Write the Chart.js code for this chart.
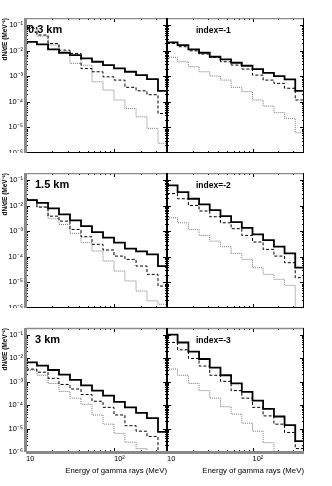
<!DOCTYPE html>
<html>
<head>
<meta charset="utf-8">
<script src="https://cdn.jsdelivr.net/npm/chart.js@4/dist/chart.umd.min.js"></script>
<style>
  html, body { margin: 0; padding: 0; background: #fff; }
  body { width: 332px; height: 486px; position: relative; overflow: hidden; }
  canvas { position: absolute; }
</style>
</head>
<body>
<canvas id="p0"></canvas>
<canvas id="p1"></canvas>
<canvas id="p2"></canvas>
<canvas id="p3"></canvas>
<canvas id="p4"></canvas>
<canvas id="p5"></canvas>
<script>
// bin edges of the histograms (MeV)
const binEdges = [10, 13.3, 17.8, 23.7, 31.6, 42.2, 56.2, 75, 100, 133, 178, 237, 316, 422];
const yDecades = [1e-6, 1e-5, 1e-4, 1e-3, 1e-2, 1e-1];
const xLabelTicks = [10, 100];

// 0.3 km
const solid03 = [0.0223, 0.0176, 0.0112, 0.0083, 0.0067, 0.0050, 0.0037, 0.00274, 0.00203, 0.00150, 0.00111, 0.00078, 0.00027];
const dashed03 = [0.081, 0.041, 0.019, 0.0105, 0.0078, 0.0020, 0.0015, 0.00095, 0.00071, 0.00037, 0.00027, 0.00019, 0.000035];
const dotted03 = [0.074, 0.037, 0.0166, 0.0083, 0.0032, 0.0027, 0.00061, 0.00029, 0.000118, 0.000055, 0.000026, 0.0000092, 0.0000024];
// index=-1
const solidIdx1 = [0.0210, 0.0166, 0.0112, 0.0083, 0.0058, 0.00456, 0.00338, 0.00258, 0.00191, 0.00137, 0.00102, 0.00075, 0.00027];
const dashedIdx1 = [0.0192, 0.0143, 0.0099, 0.0074, 0.0055, 0.0037, 0.00274, 0.00191, 0.00111, 0.00071, 0.00053, 0.00034, 0.000118];
const dottedIdx1 = [0.0055, 0.0037, 0.00236, 0.00150, 0.00102, 0.00071, 0.00037, 0.00025, 0.000118, 0.0000686, 0.0000377, 0.0000226, 0.0000062];
// 1.5 km
const solid15 = [0.0166, 0.0130, 0.0078, 0.00456, 0.00266, 0.00160, 0.00093, 0.00056, 0.00036, 0.00021, 0.000164, 0.000125, 0.0000437];
const dashed15 = [0.0166, 0.0088, 0.0039, 0.0025, 0.00118, 0.00061, 0.00031, 0.000185, 0.000107, 0.0000796, 0.0000437, 0.0000207, 0.0000072];
const dotted15 = [0.0176, 0.0091, 0.00309, 0.00185, 0.00083, 0.00036, 0.000169, 0.0000686, 0.0000279, 0.0000114, 0.0000046, 0.0000019, 0.0000014];
// index=-2
const solidIdx2 = [0.062, 0.034, 0.0187, 0.0112, 0.0067, 0.0039, 0.00229, 0.00137, 0.00075, 0.00045, 0.00025, 0.000136, 0.0000377];
const dashedIdx2 = [0.030, 0.0187, 0.0102, 0.0062, 0.0037, 0.00215, 0.00126, 0.00069, 0.00038, 0.000196, 0.000107, 0.000059, 0.0000153];
const dottedIdx2 = [0.00338, 0.00215, 0.00118, 0.00069, 0.00041, 0.00025, 0.000136, 0.0000796, 0.0000377, 0.0000207, 0.0000132, 0.0000077, 0.0000001];
// 3 km
const solid3 = [0.0065, 0.0048, 0.00309, 0.00197, 0.00118, 0.00069, 0.00041, 0.00025, 0.000136, 0.0000796, 0.0000464, 0.0000279, 0.0000072];
const dashed3 = [0.00338, 0.0025, 0.00137, 0.00075, 0.00048, 0.00028, 0.000145, 0.0000796, 0.0000377, 0.0000132, 0.0000077, 0.0000046, 0.0000001];
const dotted3 = [0.00309, 0.00185, 0.00083, 0.00038, 0.000196, 0.000107, 0.0000377, 0.0000153, 0.0000062, 0.0000026, 0.0000014, 0.0000001, 0.0000001];
// index=-3
const solidIdx3 = [0.1, 0.0458, 0.0187, 0.0091, 0.0039, 0.00185, 0.00083, 0.00036, 0.000154, 0.0000686, 0.0000324, 0.000014, 0.0000029];
const dashedIdx3 = [0.0458, 0.0223, 0.0096, 0.00456, 0.00185, 0.00102, 0.00041, 0.000196, 0.0000796, 0.0000344, 0.0000153, 0.0000068, 0.0000014];
const dottedIdx3 = [0.00338, 0.00185, 0.00083, 0.00041, 0.000196, 0.0000845, 0.0000412, 0.0000168, 0.0000077, 0.0000025, 0.0000001, 0.0000001, 0.0000001];

const panels = [
    { id: 'p0', label: '0.3 km', col: 0, row: 0, labelDx: 2, series: [solid03, dashed03, dotted03] },
    { id: 'p1', label: 'index=-1', col: 1, row: 0, labelDx: 29, series: [solidIdx1, dashedIdx1, dottedIdx1] },
    { id: 'p2', label: '1.5 km', col: 0, row: 1, labelDx: 9, series: [solid15, dashed15, dotted15] },
    { id: 'p3', label: 'index=-2', col: 1, row: 1, labelDx: 29, series: [solidIdx2, dashedIdx2, dottedIdx2] },
    { id: 'p4', label: '3 km', col: 0, row: 2, labelDx: 9, series: [solid3, dashed3, dotted3] },
    { id: 'p5', label: 'index=-3', col: 1, row: 2, labelDx: 29, series: [solidIdx3, dashedIdx3, dottedIdx3] }
];

const rowTops = [18, 173, 328];
const panelHeight = 135;
const FONT = "'Liberation Sans', Arial, sans-serif";

const SUP = { '0': '⁰', '1': '¹', '2': '²', '3': '³', '4': '⁴', '5': '⁵', '6': '⁶', '7': '⁷', '8': '⁸', '9': '⁹', '-': '⁻' };
function powLabel(v) {
    const e = Math.round(Math.log10(v));
    if (e === 1) return '10';
    return '10' + String(e).split('').map(c => SUP[c]).join('');
}

function histPoints(values) {
    // one point per left bin edge, plus the closing right edge
    return binEdges.map((x, i) => ({ x: x, y: values[Math.min(i, values.length - 1)] }));
}

const framePlugin = {
    id: 'frame',
    afterDatasetsDraw(chart, args, opts) {
        const { ctx, chartArea: a } = chart;
        const x = chart.scales.x, y = chart.scales.y;
        ctx.save();
        ctx.strokeStyle = '#000';
        ctx.lineWidth = 1;
        // minor / major ticks on the y axis (both sides)
        ctx.beginPath();
        yDecades.forEach(d => {
            for (let m = 1; m <= 9; m++) {
                const v = m * d;
                if (v < y.min || v > y.max) continue;
                const p = Math.round(y.getPixelForValue(v)) + 0.5;
                const len = m === 1 ? 4 : 2;
                ctx.moveTo(a.left, p); ctx.lineTo(a.left + len, p);
                ctx.moveTo(a.right, p); ctx.lineTo(a.right - len, p);
            }
        });
        [10, 100].forEach(d => {
            for (let m = 1; m <= 9; m++) {
                const v = m * d;
                if (v <= x.min || v >= x.max) continue;
                const p = Math.round(x.getPixelForValue(v)) + 0.5;
                const len = m === 1 ? 4 : 2;
                ctx.moveTo(p, a.bottom); ctx.lineTo(p, a.bottom - len);
                ctx.moveTo(p, a.top); ctx.lineTo(p, a.top + len);
            }
        });
        ctx.stroke();

        // frame
        ctx.strokeStyle = '#8a8a8a';
        ctx.lineWidth = 1.5;
        ctx.beginPath();
        ctx.moveTo(a.left, a.top + 0.5); ctx.lineTo(a.right, a.top + 0.5);
        ctx.stroke();
        ctx.strokeStyle = '#000';
        ctx.lineWidth = 1;
        ctx.beginPath();
        ctx.moveTo(a.left, a.bottom - 0.5); ctx.lineTo(a.right, a.bottom - 0.5);
        if (opts.col === 0) {
            ctx.moveTo(a.right - 0.5, a.top); ctx.lineTo(a.right - 0.5, a.bottom);
        } else {
            ctx.moveTo(a.left + 0.5, a.top); ctx.lineTo(a.left + 0.5, a.bottom);
            ctx.moveTo(a.right - 0.5, a.top); ctx.lineTo(a.right - 0.5, a.bottom);
        }
        ctx.stroke();
        ctx.fillStyle = '#8a8a8a';
        if (opts.col === 0) ctx.fillRect(a.left - 2, a.top, 3, a.bottom - a.top);
        if (opts.row === 2) ctx.fillRect(a.left, a.bottom - 1, a.right - a.left, 3);

        // panel label
        ctx.fillStyle = '#000';
        ctx.textBaseline = 'middle';
        ctx.textAlign = 'left';
        ctx.font = opts.col === 0 ? 'bold 11px ' + FONT : 'bold 8.5px ' + FONT;
        ctx.fillText(opts.label, a.left + opts.labelDx, a.top + (opts.col === 0 ? 12 : 13));
        ctx.restore();
    }
};

panels.forEach(p => {
    const canvas = document.getElementById(p.id);
    const left = p.col === 0 ? 0 : 147;
    const width = p.col === 0 ? 167 : 157;
    const top = rowTops[p.row] - (p.row === 2 ? 10 : 0);
    const height = p.row === 2 ? 158 : panelHeight;
    canvas.style.left = left + 'px';
    canvas.style.top = top + 'px';
    canvas.width = width;
    canvas.height = height;
    canvas.style.width = width + 'px';
    canvas.style.height = height + 'px';

    const styles = [
        { borderColor: '#000', borderWidth: 1.8, borderDash: [] },
        { borderColor: '#000', borderWidth: 1, borderDash: [3, 2] },
        { borderColor: '#777', borderWidth: 1, borderDash: [1, 1] }
    ];
    const showX = p.row === 2;
    const showY = p.col === 0;

    new Chart(canvas.getContext('2d'), {
        type: 'line',
        data: {
            datasets: p.series.map((vals, i) => Object.assign({
                data: histPoints(vals),
                stepped: true,
                pointRadius: 0,
                fill: false,
                tension: 0
            }, styles[i]))
        },
        options: {
            responsive: false,
            animation: false,
            devicePixelRatio: 1,
            layout: { padding: { left: p.col === 1 ? 20 : 0, top: p.row === 2 ? 10 : 0, right: 0, bottom: 0 } },
            plugins: {
                legend: { display: false },
                tooltip: { enabled: false },
                frame: { col: p.col, row: p.row, label: p.label, labelDx: p.labelDx }
            },
            scales: {
                x: {
                    type: 'logarithmic',
                    min: 10,
                    max: 400,
                    display: showX,
                    grid: { display: false, drawTicks: false },
                    border: { display: false },
                    afterBuildTicks: s => { s.ticks = xLabelTicks.map(v => ({ value: v })); },
                    afterFit: s => { if (showX) { s.height = 24; s.paddingLeft = 0; s.paddingRight = 0; } },
                    ticks: {
                        autoSkip: false,
                        maxRotation: 0,
                        align: 'start',
                        padding: 2,
                        color: '#000',
                        font: { family: FONT, size: 7.5 },
                        callback: v => powLabel(v)
                    },
                    title: {
                        display: true,
                        text: 'Energy of gamma rays (MeV)',
                        align: 'end',
                        color: '#000',
                        font: { family: FONT, size: 7.8 },
                        padding: { top: 7, bottom: 0 }
                    }
                },
                y: {
                    type: 'logarithmic',
                    min: 1e-6,
                    max: 0.19,
                    display: showY,
                    grid: { display: false, drawTicks: false },
                    border: { display: false },
                    afterBuildTicks: s => { s.ticks = yDecades.map(v => ({ value: v })); },
                    afterFit: s => { if (showY) { s.width = 26; s.paddingTop = 0; s.paddingBottom = 0; } },
                    ticks: {
                        autoSkip: false,
                        padding: 3,
                        color: '#000',
                        font: { family: FONT, size: 7.5 },
                        callback: v => powLabel(v)
                    },
                    title: {
                        display: true,
                        text: 'dN/dE (MeV⁻¹)',
                        align: 'end',
                        color: '#000',
                        font: { family: FONT, size: 6.5, weight: 'bold' },
                        padding: { top: 1, bottom: 0 }
                    }
                }
            }
        },
        plugins: [framePlugin]
    });
});
</script>
</body>
</html>
